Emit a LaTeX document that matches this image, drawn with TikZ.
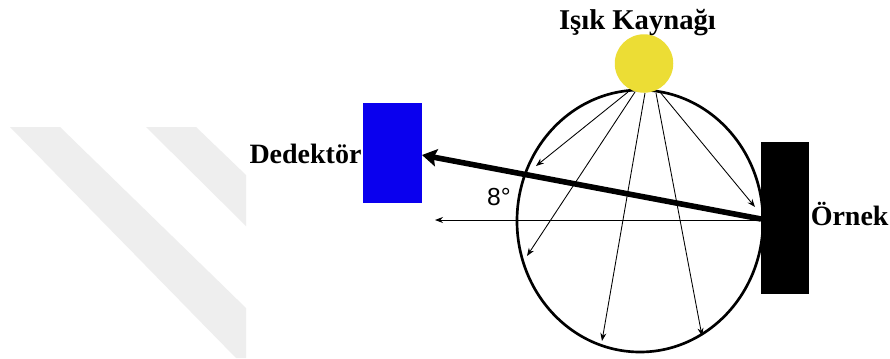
\documentclass[tikz,border=0pt]{standalone}
\usepackage{fontspec}
\setmainfont{Liberation Serif}
\newfontfamily\labelsans{Liberation Sans}
\usetikzlibrary{arrows.meta,shapes.geometric}
\definecolor{sunyellow}{HTML}{ECDD35}
\definecolor{detblue}{HTML}{0A00EE}
\definecolor{wmgray}{HTML}{EEEEEE}
\tikzset{
  x=0.75pt,y=-0.75pt,
  lab/.style={font=\bfseries\fontsize{21}{24}\selectfont,inner sep=0pt,text=black},
  block/.style={draw=none,inner sep=0pt,outer sep=0pt},
  ray/.style={line width=0.65pt,-{Stealth[length=6pt,width=4.5pt]}},
  beam/.style={line width=4.2pt,-{Stealth[length=11pt,width=13pt,inset=2pt]}},
  wm/.style={fill=wmgray,draw=none}
}
\begin{document}
\begin{tikzpicture}
\useasboundingbox (0,0) rectangle (890,358);
\fill[white] (0,0) rectangle (890,358);
% watermark
\path[wm] (10,127) -- (60,127) -- (246,308) -- (246,358) -- (236,358) -- cycle;
\path[wm] (146,127) -- (196,127) -- (246,175) -- (246,226) -- cycle;
% sphere
\node[block,draw=black,line width=2pt,ellipse,minimum width=246*0.75pt,minimum height=262*0.75pt] (sphere) at (640,221) {};
% coordinates
\coordinate (r1s) at (628,92); \coordinate (r1e) at (536,166);
\coordinate (r2s) at (635,92); \coordinate (r2e) at (527,256);
\coordinate (r3s) at (645,93); \coordinate (r3e) at (602,341);
\coordinate (r4s) at (656,93); \coordinate (r4e) at (702,336);
\coordinate (r5s) at (660,92); \coordinate (r5e) at (755,207);
\coordinate (hs) at (761,220); \coordinate (he) at (435,220);
\coordinate (bs) at (761,219);
% blocks
\node[block,fill=sunyellow,circle,minimum size=58.5*0.75pt] (sun) at (644,63.5) {};
\node[block,fill=black,minimum width=48*0.75pt,minimum height=152*0.75pt] (sample) at (785,218) {};
\node[block,fill=detblue,minimum width=59*0.75pt,minimum height=100*0.75pt] (detector) at (392.5,153) {};
% connectors
\foreach \i in {1,...,5} \draw[ray] (r\i s) -- (r\i e);
\draw[line width=0.65pt,-{Stealth[length=6pt,width=4.5pt]}] (hs) -- (he);
\draw[beam] (bs) -- (detector.east |- 0,155);
% labels
\node[lab,font=\bfseries\fontsize{21.5}{24}\selectfont] (src) at (637.5,23) {Işık Kaynağı};
\node[lab] (detl) at (305.5,154) {Dedektör};
\node[lab,anchor=west] (saml) at (810.5,214) {Örnek};
\node[font=\labelsans\fontsize{18.5}{22}\selectfont,inner sep=0pt] (ang) at (499,197) {8°};
\end{tikzpicture}
\end{document}
